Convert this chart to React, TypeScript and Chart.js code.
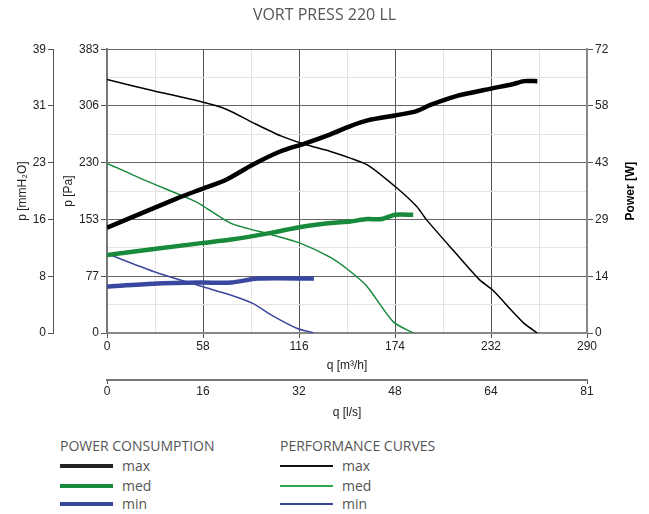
import React, { useEffect, useRef } from "react";
import { Chart, registerables } from "chart.js";

Chart.register(...registerables);

// ---- tick labels ----
const qM3hLabels = [0, 58, 116, 174, 232, 290];
const qLsLabels = [0, 16, 32, 48, 64, 81];
const paLabels = [0, 77, 153, 230, 306, 383];
const mmLabels = [0, 8, 16, 23, 31, 39];
const powerLabels = [0, 14, 29, 43, 58, 72];

// ---- performance curves (q m3/h -> p Pa) ----
const perfMaxQ = [0, 28, 57, 72, 88, 105, 119, 135, 147, 158, 175, 187, 193, 209, 225, 233, 245, 252, 260];
const perfMaxP = [342, 327, 312, 302, 284, 266, 255, 245, 236, 226, 196, 171, 153, 112, 72, 58, 29, 13, 0];
const perfMedQ = [0, 22, 51, 57, 75, 99, 117, 135, 147, 157, 173, 185];
const perfMedP = [229, 207, 180, 173, 148, 133, 121, 102, 83, 63, 15, 0];
const perfMinQ = [0, 28, 57, 75, 88, 101, 115, 125];
const perfMinP = [107, 83, 63, 51, 40, 22, 6, 0];

// ---- power consumption (q m3/h -> W) ----
const powerMaxQ = [0, 42, 57, 72, 88, 105, 119, 135, 147, 158, 174, 187, 195, 211, 232, 245, 252, 260];
const powerMaxW = [26.7, 34.1, 36.5, 38.9, 42.7, 46.1, 48.0, 50.4, 52.5, 54.0, 55.2, 56.3, 57.8, 60.1, 62.0, 63.1, 63.9, 63.9];
const powerMedQ = [0, 57, 75, 99, 117, 135, 147, 157, 166, 174, 185];
const powerMedW = [19.8, 22.8, 23.7, 25.4, 26.9, 27.9, 28.3, 28.9, 28.9, 30.0, 30.0];
const powerMinQ = [0, 28, 57, 75, 91, 125];
const powerMinW = [11.8, 12.5, 12.8, 12.8, 13.8, 13.8];

const BLACK = "#000000";
const GREEN = "#178a3c";
const GREEN_LIGHT = "#2fa84f";
const BLUE = "#3a479e";

const pts = (xs: number[], ys: number[]) => xs.map((x, i) => ({ x, y: ys[i] }));

const TICK_FONT = { family: "'Liberation Sans', Arial, sans-serif", size: 12 };
const MAJOR = "#555555";
const MINOR = "#e4e4e4";

function evenTicks(max: number, n: number) {
  return (scale: any) => {
    const t = [];
    for (let i = 0; i <= n; i++) t.push({ value: (i * max) / n });
    scale.ticks = t;
  };
}

// Right-axis title drawn bottom-to-top
const powerTitlePlugin = {
  id: "powerTitle",
  afterDraw(chart: any) {
    const s = chart.scales.yW;
    if (!s) return;
    const ctx = chart.ctx;
    ctx.save();
    ctx.translate(s.right - 10, (s.top + s.bottom) / 2);
    ctx.rotate(-Math.PI / 2);
    ctx.fillStyle = "#000";
    ctx.font = "bold 12px 'Liberation Sans', Arial, sans-serif";
    ctx.textAlign = "center";
    ctx.textBaseline = "middle";
    ctx.fillText("Power [W]", 0, 0);
    ctx.restore();
  },
};

export default function App() {
  const ref = useRef<HTMLCanvasElement | null>(null);

  useEffect(() => {
    if (!ref.current) return;
    const perfBase = { borderWidth: 1.5, pointRadius: 0, fill: false, tension: 0.25, yAxisID: "yPa", xAxisID: "x" };
    const powBase = { borderWidth: 4.5, pointRadius: 0, fill: false, tension: 0.25, yAxisID: "yW", xAxisID: "x" };
    const chart = new Chart(ref.current, {
      type: "line",
      data: {
        datasets: [
          { ...powBase, label: "power max", data: pts(powerMaxQ, powerMaxW), borderColor: BLACK },
          { ...powBase, label: "power med", data: pts(powerMedQ, powerMedW), borderColor: GREEN },
          { ...powBase, label: "power min", data: pts(powerMinQ, powerMinW), borderColor: BLUE },
          { ...perfBase, label: "perf max", data: pts(perfMaxQ, perfMaxP), borderColor: BLACK },
          { ...perfBase, label: "perf med", data: pts(perfMedQ, perfMedP), borderColor: GREEN },
          { ...perfBase, label: "perf min", data: pts(perfMinQ, perfMinP), borderColor: BLUE },
        ],
      },
      plugins: [powerTitlePlugin],
      options: {
        animation: false,
        responsive: false,
        maintainAspectRatio: false,
        layout: { padding: { left: 8, right: 8, top: 0, bottom: 0 } },
        plugins: {
          legend: { display: false },
          tooltip: { enabled: false },
          title: {
            display: true,
            text: "VORT PRESS 220 LL",
            color: "#555",
            font: { family: "'Open Sans', sans-serif", size: 16, weight: "normal" },
            padding: { top: 6, bottom: 24 },
          },
        },
        scales: {
          x: {
            type: "linear",
            position: "bottom",
            weight: 0,
            min: 0,
            max: 290,
            afterBuildTicks: evenTicks(290, 10),
            afterFit: (s: any) => { s.height = 47; },
            grid: {
              color: (c: any) => (c.index % 2 === 0 ? MAJOR : MINOR),
              tickColor: (c: any) => (c.index % 2 === 0 ? MAJOR : "rgba(0,0,0,0)"),
              tickLength: 5,
              lineWidth: 1,
            },
            border: { color: "#888", width: 2 },
            ticks: {
              autoSkip: false,
              maxRotation: 0,
              padding: 1,
              color: "#222",
              font: TICK_FONT,
              callback: (_v: any, i: number) => (i % 2 === 0 ? String(qM3hLabels[i / 2]) : ""),
            },
            title: { display: true, text: "q [m³/h]", color: "#222", font: TICK_FONT, padding: { top: 2, bottom: 7 } },
          },
          x2: {
            type: "linear",
            position: "bottom",
            weight: 1,
            min: 0,
            max: 290,
            afterBuildTicks: evenTicks(290, 5),
            afterFit: (s: any) => { s.height = 40; },
            grid: {
              drawOnChartArea: false,
              tickColor: (c: any) => (c.index === 0 || c.index === 5 ? MAJOR : "rgba(0,0,0,0)"),
              tickLength: 4,
            },
            border: { color: "#777", width: 2 },
            ticks: {
              autoSkip: false,
              maxRotation: 0,
              padding: 0,
              color: "#222",
              font: TICK_FONT,
              callback: (_v: any, i: number) => String(qLsLabels[i]),
            },
            title: { display: true, text: "q [l/s]", color: "#222", font: TICK_FONT, padding: { top: 2, bottom: 0 } },
          },
          yPa: {
            type: "linear",
            position: "left",
            weight: 0,
            min: 0,
            max: 383,
            afterBuildTicks: evenTicks(383, 10),
            afterFit: (s: any) => { s.width = 54; },
            grid: {
              color: (c: any) => (c.index % 2 === 0 ? "#666" : MINOR),
              tickColor: (c: any) => (c.index % 2 === 0 ? MAJOR : "rgba(0,0,0,0)"),
              tickLength: 6,
            },
            border: { color: "#777", width: 2 },
            ticks: {
              autoSkip: false,
              padding: 2,
              color: "#222",
              font: TICK_FONT,
              callback: (_v: any, i: number) => (i % 2 === 0 ? String(paLabels[i / 2]) : ""),
            },
            title: { display: true, text: "p [Pa]", color: "#222", font: TICK_FONT, padding: { top: 8, bottom: 0 } },
          },
          yMm: {
            type: "linear",
            position: "left",
            weight: 1,
            min: 0,
            max: 39,
            afterBuildTicks: evenTicks(39, 5),
            afterFit: (s: any) => { s.width = 45; },
            grid: { drawOnChartArea: false, tickColor: MAJOR, tickLength: 5 },
            border: { color: "#555", width: 1 },
            ticks: {
              autoSkip: false,
              padding: 2,
              color: "#222",
              font: TICK_FONT,
              callback: (_v: any, i: number) => String(mmLabels[i]),
            },
            title: { display: true, text: "p [mmH₂O]", color: "#222", font: TICK_FONT, padding: { top: 7, bottom: 0 } },
          },
          yW: {
            type: "linear",
            position: "right",
            min: 0,
            max: 72,
            afterBuildTicks: evenTicks(72, 5),
            afterFit: (s: any) => { s.width = 54; },
            grid: { drawOnChartArea: false, tickColor: MAJOR, tickLength: 6 },
            border: { color: "#888", width: 2 },
            ticks: {
              autoSkip: false,
              padding: 2,
              color: "#222",
              font: TICK_FONT,
              callback: (_v: any, i: number) => String(powerLabels[i]),
            },
            title: { display: false },
          },
        },
      } as any,
    });
    return () => chart.destroy();
  }, []);

  const legendFont = "'Open Sans', sans-serif";
  const item = (color: string, width: number, label: string, top: number, left: number) => (
    <div key={label + left} style={{ position: "absolute", top, left, display: "flex", alignItems: "center" }}>
      <div style={{ width: 53, height: width, background: color }} />
      <span style={{ marginLeft: 9, fontSize: 14, color: "#555", fontFamily: legendFont, lineHeight: "16px" }}>{label}</span>
    </div>
  );

  return (
    <div style={{ position: "absolute", left: 0, top: 0, width: 649, height: 514, background: "#fff" }}>
      <canvas ref={ref} width={649} height={420} style={{ display: "block" }} />
      <div style={{ position: "absolute", left: 60, top: 437, fontSize: 14, color: "#555", fontFamily: legendFont, lineHeight: "18px" }}>
        POWER CONSUMPTION
      </div>
      <div style={{ position: "absolute", left: 280, top: 437, fontSize: 14, color: "#555", fontFamily: legendFont, lineHeight: "18px" }}>
        PERFORMANCE CURVES
      </div>
      {item("#222", 4, "max", 458, 60)}
      {item(GREEN, 4, "med", 478, 60)}
      {item(BLUE, 4, "min", 496, 60)}
      {item("#111", 1.5, "max", 458, 280)}
      {item(GREEN_LIGHT, 1.5, "med", 478, 280)}
      {item(BLUE, 1.5, "min", 496, 280)}
    </div>
  );
}
